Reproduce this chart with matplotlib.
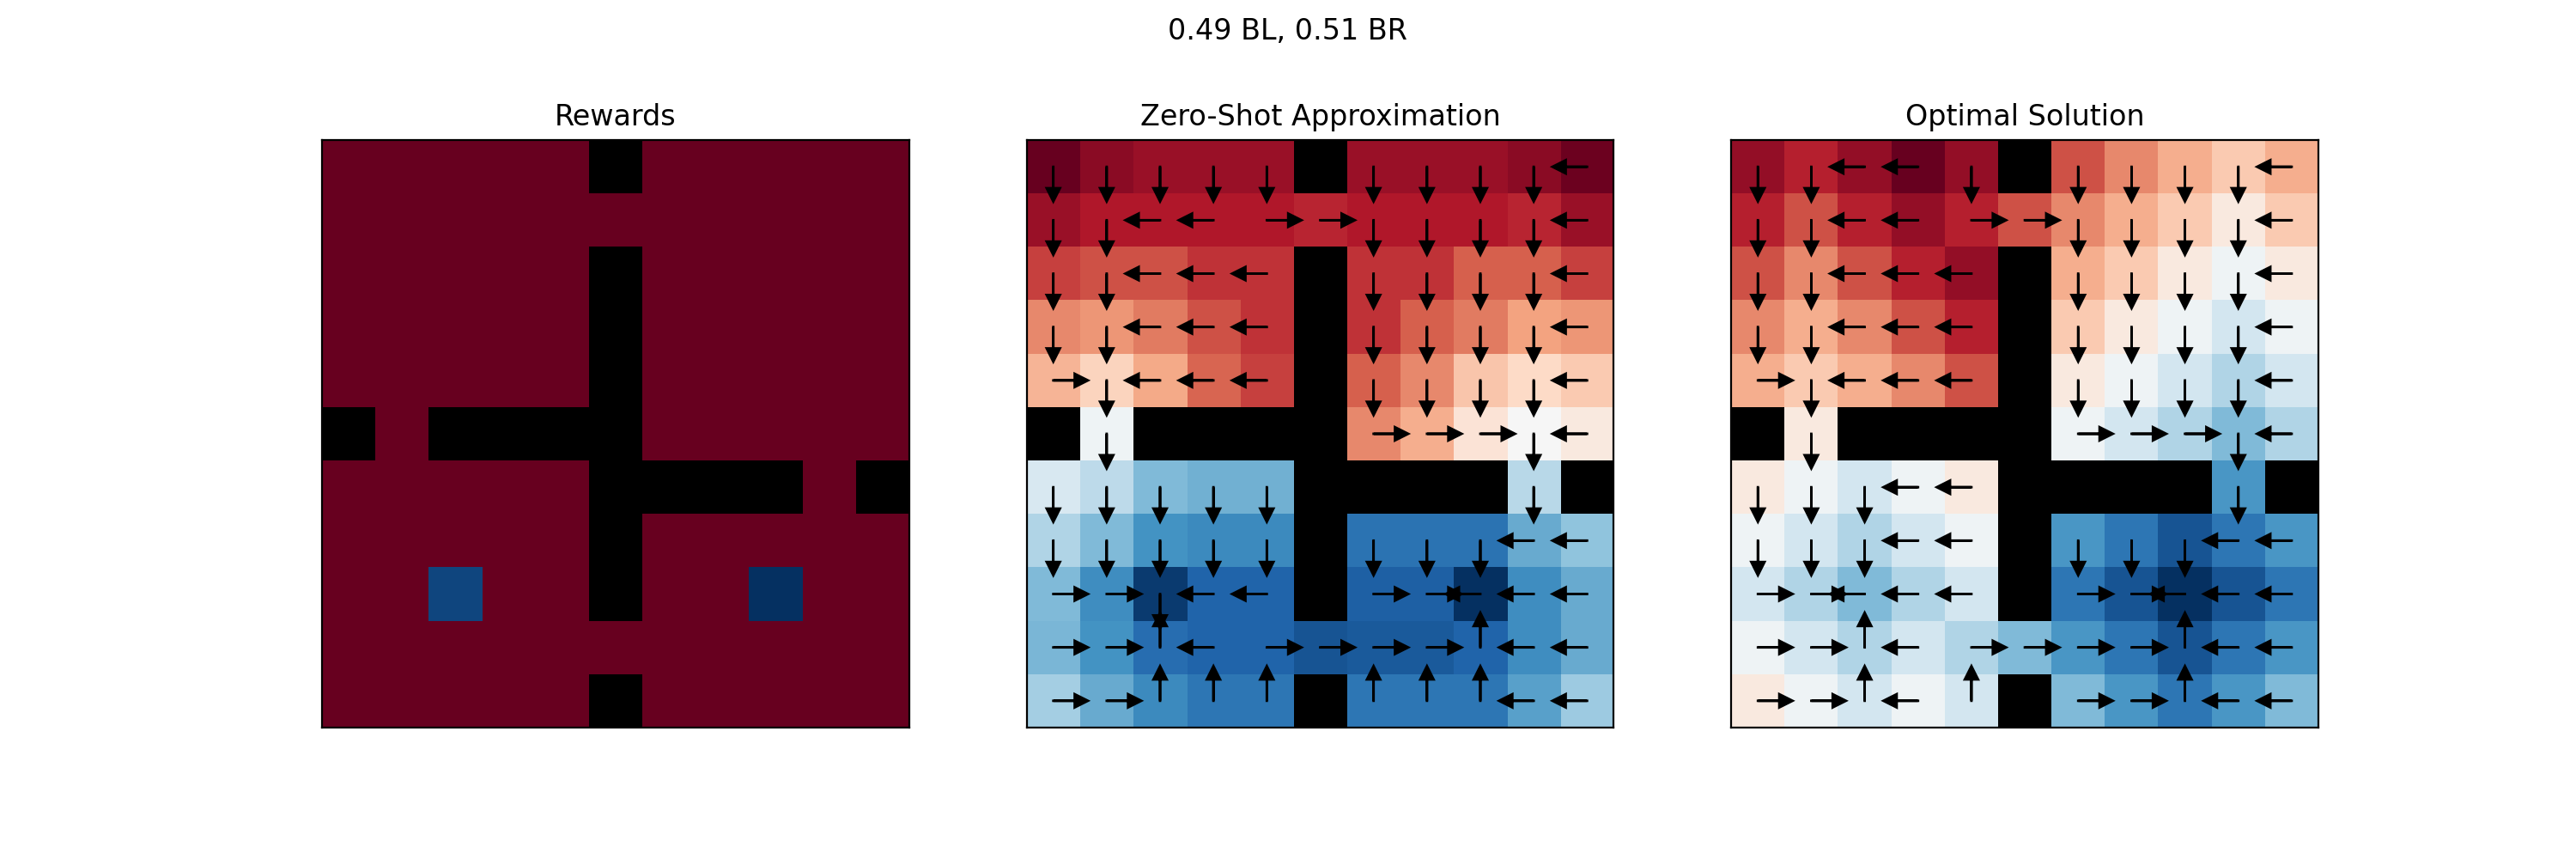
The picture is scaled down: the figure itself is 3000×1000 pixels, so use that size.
import numpy as np
import matplotlib
matplotlib.use("Agg")
import matplotlib.pyplot as plt

nan = np.nan

# 11x11 four-rooms grid, '#' = wall
walls = [
    ".....#.....",
    "...........",
    ".....#.....",
    ".....#.....",
    ".....#.....",
    "#.####.....",
    ".....####.#",
    ".....#.....",
    ".....#.....",
    "...........",
    ".....#.....",
]

# goal rewards (row, col, reward)
goal_cells = [(8, 2), (8, 8)]
goal_rewards = [0.49, 0.51]

# value estimates, read off the colour scale (walls = nan)
zero_shot_values = [
    [0.00, 0.05, 0.07, 0.07, 0.07, nan, 0.07, 0.07, 0.07, 0.05, 0.01],
    [0.07, 0.10, 0.10, 0.10, 0.10, 0.12, 0.10, 0.10, 0.10, 0.12, 0.07],
    [0.16, 0.18, 0.18, 0.14, 0.14, nan, 0.14, 0.14, 0.20, 0.20, 0.16],
    [0.26, 0.28, 0.24, 0.18, 0.14, nan, 0.14, 0.20, 0.24, 0.30, 0.28],
    [0.33, 0.39, 0.31, 0.21, 0.16, nan, 0.20, 0.26, 0.36, 0.40, 0.37],
    [nan, 0.52, nan, nan, nan, nan, 0.26, 0.32, 0.43, 0.50, 0.45],
    [0.58, 0.63, 0.72, 0.74, 0.74, nan, nan, nan, nan, 0.64, nan],
    [0.65, 0.72, 0.80, 0.82, 0.82, nan, 0.87, 0.87, 0.87, 0.75, 0.70],
    [0.72, 0.81, 0.98, 0.90, 0.90, nan, 0.91, 0.91, 1.00, 0.81, 0.75],
    [0.73, 0.80, 0.88, 0.90, 0.90, 0.93, 0.92, 0.92, 0.90, 0.81, 0.75],
    [0.67, 0.75, 0.82, 0.86, 0.86, nan, 0.86, 0.86, 0.86, 0.77, 0.68],
]

optimal_values = [
    [0.06, 0.11, 0.06, 0.00, 0.06, nan, 0.18, 0.26, 0.32, 0.37, 0.32],
    [0.11, 0.18, 0.11, 0.06, 0.11, 0.18, 0.26, 0.32, 0.37, 0.45, 0.37],
    [0.18, 0.26, 0.18, 0.11, 0.06, nan, 0.32, 0.37, 0.45, 0.52, 0.45],
    [0.26, 0.32, 0.26, 0.18, 0.11, nan, 0.37, 0.45, 0.52, 0.59, 0.52],
    [0.32, 0.37, 0.32, 0.26, 0.18, nan, 0.45, 0.52, 0.59, 0.65, 0.59],
    [nan, 0.45, nan, nan, nan, nan, 0.52, 0.59, 0.65, 0.72, 0.65],
    [0.45, 0.52, 0.59, 0.52, 0.45, nan, nan, nan, nan, 0.79, nan],
    [0.52, 0.59, 0.65, 0.59, 0.52, nan, 0.79, 0.86, 0.93, 0.86, 0.79],
    [0.59, 0.65, 0.72, 0.65, 0.59, nan, 0.86, 0.93, 1.00, 0.93, 0.86],
    [0.52, 0.59, 0.65, 0.59, 0.65, 0.72, 0.79, 0.86, 0.93, 0.86, 0.79],
    [0.45, 0.52, 0.59, 0.52, 0.59, nan, 0.72, 0.79, 0.86, 0.79, 0.72],
]

# greedy actions: U/D/L/R, '.' = none
zero_shot_policy = [
    "DDDDD.DDDDL",
    "DDLLRRDDDDL",
    "DDLLL.DDDDL",
    "DDLLL.DDDDL",
    "RDLLL.DDDDL",
    ".D....RRRDL",
    "DDDDD....D.",
    "DDDDD.DDDLL",
    "RRDLL.RRLLL",
    "RRULRRRRULL",
    "RRUUU.UUULL",
]

optimal_policy = [
    "DDLLD.DDDDL",
    "DDLLRRDDDDL",
    "DDLLL.DDDDL",
    "DDLLL.DDDDL",
    "RDLLL.DDDDL",
    ".D....RRRDL",
    "DDDLL....D.",
    "DDDLL.DDDLL",
    "RRLLL.RRLLL",
    "RRULRRRRULL",
    "RRULU.RRULL",
]

wall_mask = np.array([[ch == "#" for ch in row] for row in walls])

rewards = np.zeros(wall_mask.shape)
for (r, c), rew in zip(goal_cells, goal_rewards):
    rewards[r, c] = rew

cmap = plt.get_cmap("RdBu").copy()
cmap.set_bad("black")

moves = {"U": (0, -0.4), "D": (0, 0.4), "L": (-0.4, 0), "R": (0.4, 0)}


def draw_grid(ax, values, title, policy=None):
    data = np.ma.masked_array(np.array(values, dtype=float), mask=wall_mask)
    ax.imshow(data, cmap=cmap, interpolation="nearest")
    if policy is not None:
        for r, row in enumerate(policy):
            for c, a in enumerate(row):
                if a in moves:
                    dx, dy = moves[a]
                    ax.arrow(c, r, dx, dy, head_width=0.25, head_length=0.25,
                             fc="k", ec="k")
    ax.set_title(title)
    ax.set_xticks([])
    ax.set_yticks([])


fig, axes = plt.subplots(1, 3, figsize=(15, 5))
draw_grid(axes[0], rewards, "Rewards")
draw_grid(axes[1], zero_shot_values, "Zero-Shot Approximation", zero_shot_policy)
draw_grid(axes[2], optimal_values, "Optimal Solution", optimal_policy)

fig.suptitle(f"{goal_rewards[0]} BL, {goal_rewards[1]} BR")

plt.savefig("out.png", dpi=200)
plt.close()
